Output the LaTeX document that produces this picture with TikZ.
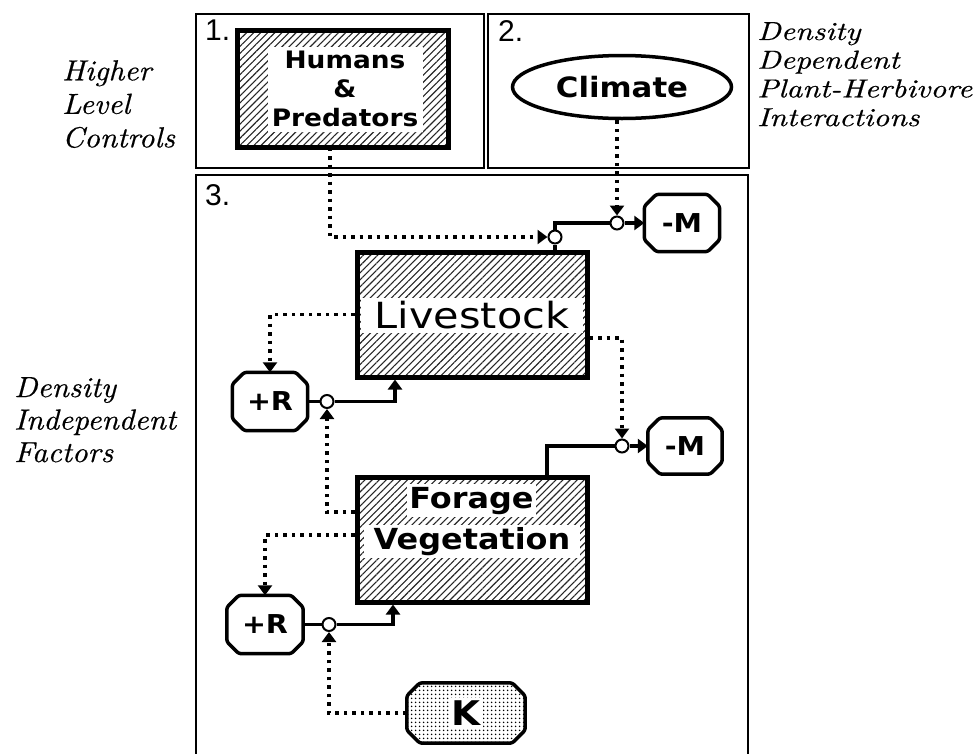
\documentclass[tikz,border=0pt]{standalone}
\usepackage{fontspec}
\newfontfamily\chic[FakeStretch=1.1]{DejaVu Sans}
\newfontfamily\genv[FakeStretch=1.15]{DejaVu Sans}
\newfontfamily\helv{Liberation Sans}
\newfontfamily\palA[FakeStretch=1.06,FakeBold=0.5]{lmroman10-italic.otf}
\newfontfamily\palB[FakeStretch=1.2,FakeBold=0.5]{lmroman10-italic.otf}
\usetikzlibrary{shapes.geometric,patterns.meta,arrows.meta}
\tikzset{
  panel/.style={draw, line width=2.2pt, inner sep=0pt, anchor=north west},
  hatchbox/.style={draw, line width=5pt, inner sep=0pt,
    pattern={Lines[angle=45,distance=5pt,line width=1.1pt]}, pattern color=black!85},
  whitetext/.style={fill=white, inner sep=2pt},
  octo/.style={rectangle, inner sep=0pt, font=\chic\bfseries\fontsize{26}{26}\selectfont},
  octoline/.style={line width=3.5pt, line join=round, rounded corners=2.5pt},
  valve/.style={circle, draw, line width=2pt, fill=white, minimum size=13pt, inner sep=0pt},
  dotl/.style={line width=3.5pt, dash pattern=on 3.5pt off 5pt},
  flow/.style={line width=3.5pt},
  tip/.style={-{Triangle[width=14pt,length=10pt]}},
  numlbl/.style={anchor=north west, inner sep=0pt, font=\helv\fontsize{30}{30}\selectfont},
  lbl/.style={anchor=north west, inner sep=0pt, align=left}
}
% octagon outline round a named node: #1 options, #2 node name, #3 chamfer
\newcommand\drawocto[3]{%
  \path[octoline,#1] ([xshift=#3]#2.north west) -- ([xshift=-#3]#2.north east)
    -- ([yshift=-#3]#2.north east) -- ([yshift=#3]#2.south east)
    -- ([xshift=-#3]#2.south east) -- ([xshift=#3]#2.south west)
    -- ([yshift=#3]#2.south west) -- ([yshift=-#3]#2.north west) -- cycle;}
\begin{document}
\begin{tikzpicture}[x=1pt,y=-1pt]
\useasboundingbox (0,0) rectangle (980,753);

% panels
\node[panel, minimum width=288pt, minimum height=154pt] (p1) at (195,13) {};
\node[panel, minimum width=261pt, minimum height=154pt] (p2) at (487,13) {};
\node[panel, minimum width=552pt, minimum height=620pt] (p3) at (195,174) {};
\node[numlbl] (n1) at (205,20) {1.};
\node[numlbl] (n2) at (498,20) {2.};
\node[numlbl] (n3) at (205,184) {3.};

% side labels
\node[lbl, font={\palA\fontsize{29}{33.5}\selectfont}] (hl) at (62,60) {Higher\\Level\\Controls};
\node[lbl, font={\palB\fontsize{26}{28.7}\selectfont}] (dd) at (757,22) {Density\\Dependent\\Plant-Herbivore\\Interactions};
\node[lbl, font={\palA\fontsize{29}{32.5}\selectfont}] (di) at (14,377) {Density\\Independent\\Factors};

% humans & predators
\node[hatchbox, minimum width=211pt, minimum height=117pt] (hp) at (342.5,88.5) {};
\node[whitetext, minimum width=155pt, minimum height=85pt, align=center,
  font=\chic\bfseries\fontsize{24}{29}\selectfont] (hpt) at (345,89) {Humans\\\&\\Predators};

% climate
\node[draw, ellipse, line width=3.5pt, minimum width=219pt, minimum height=63pt, inner sep=0pt,
  font=\chic\bfseries\fontsize{28}{28}\selectfont] (cl) at (622,87) {Climate};

% livestock
\node[hatchbox, minimum width=230pt, minimum height=125pt] (ls) at (472,314.5) {};
\node[fill=white, minimum width=222pt, minimum height=35pt, inner sep=0pt,
  font=\genv\fontsize{36}{36}\selectfont] (lst) at (472,315.5) {Livestock};

% forage vegetation
\node[hatchbox, minimum width=230pt, minimum height=125pt] (fv) at (472,539.5) {};
\node[whitetext, text height=22pt, text depth=7pt, anchor=base,
  font=\chic\bfseries\fontsize{29}{29}\selectfont] (fvt1) at (471.5,508) {Forage};
\node[whitetext, text height=22pt, text depth=7pt, anchor=base, minimum width=216pt,
  font=\chic\bfseries\fontsize{29}{29}\selectfont] (fvt2) at (472,549) {Vegetation};

% octagons
\node[octo, minimum width=75pt, minimum height=57pt] (m1) at (682,223) {-M};
\drawocto{draw}{m1}{12pt}
\node[octo, minimum width=74pt, minimum height=56pt] (m2) at (685,446) {-M};
\drawocto{draw}{m2}{12pt}
\node[octo, minimum width=75pt, minimum height=58pt] (r1) at (270,401.5) {+R};
\drawocto{draw}{r1}{12pt}
\node[octo, minimum width=76pt, minimum height=58pt] (r2) at (265,624.5) {+R};
\drawocto{draw}{r2}{12pt}
\node[octo, minimum width=118pt, minimum height=60pt] (k) at (466,713) {};
\drawocto{draw, pattern={Dots[distance=4pt,radius=1pt]}}{k}{13pt}
\node[fill=white, inner sep=3pt, font=\chic\bfseries\fontsize{34}{34}\selectfont] (kt) at (k) {K};

% valves
\node[valve] (v1) at (555,237) {};
\node[valve] (v2) at (617,223) {};
\node[valve] (v3) at (622,446) {};
\node[valve] (v4) at (327,401.5) {};
\node[valve] (v5) at (329,624.5) {};

% connectors
\draw[dotl, tip] ([xshift=-12.5pt]hp.south) |- (v1);
\draw[dotl, tip] (cl.south -| v2) -- (v2);
\draw[flow] (ls.north -| v1) -- (v1);
\draw[flow] (v1) |- (v2);
\draw[flow, tip] (v2.east) -- (v2.east -| m1.west);

\draw[dotl, tip] (ls.west) -| (r1);
\draw[flow] (r1) -- (v4);
\draw[flow, tip] (v4) -| ([xshift=-77pt]ls.south);
\draw[dotl, tip] ([yshift=27.5pt]fv.west) -| (v4);

\draw[dotl, tip] ([yshift=-23.5pt]ls.east) -| (v3);
\draw[flow] ([xshift=75pt]fv.north) |- (v3);
\draw[flow, tip] (v3.east) -- (v3.east -| m2.west);

\draw[dotl, tip] ([yshift=4.5pt]fv.west) -| (r2);
\draw[flow] (r2) -- (v5);
\draw[flow, tip] (v5) -| ([xshift=-79pt]fv.south);
\draw[dotl, tip] (k.west) -| (v5);
\end{tikzpicture}
\end{document}
